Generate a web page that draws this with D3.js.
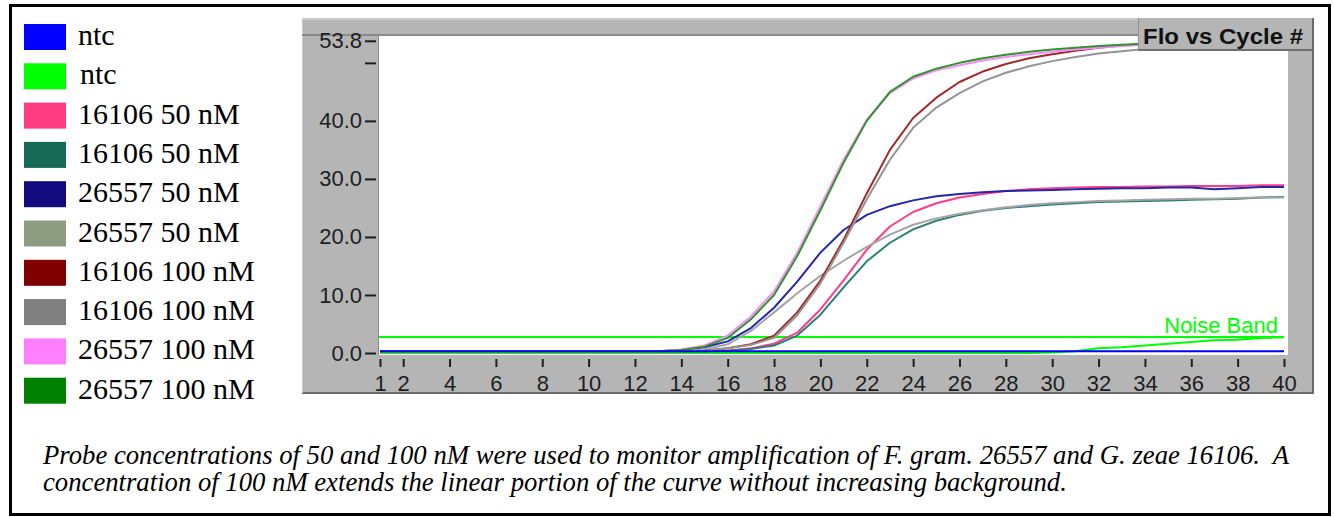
<!DOCTYPE html>
<html>
<head>
<meta charset="utf-8">
<script src="https://cdn.jsdelivr.net/npm/d3@7"></script>
<style>
    body { margin: 0; background: #ffffff; }
    svg { display: block; }
    .caption { white-space: pre; }
</style>
</head>
<body>
<svg width="1334" height="517"></svg>
<script>
var width = 1334;
var height = 517;

// cycle numbers on the x axis
var cycles = [1, 2, 3, 4, 5, 6, 7, 8, 9, 10, 11, 12, 13, 14, 15, 16, 17, 18, 19, 20,
    21, 22, 23, 24, 25, 26, 27, 28, 29, 30, 31, 32, 33, 34, 35, 36, 37, 38, 39, 40];

var legendLabels = ['ntc', 'ntc', '16106 50 nM', '16106 50 nM', '26557 50 nM', '26557 50 nM',
    '16106 100 nM', '16106 100 nM', '26557 100 nM', '26557 100 nM'];

// fluorescence per cycle, one array per well (same order as the legend)
var ntcBlue = [0.3, 0.3, 0.3, 0.3, 0.3, 0.3, 0.3, 0.3, 0.3, 0.3, 0.3, 0.3, 0.3, 0.3, 0.3, 0.3, 0.3, 0.3, 0.3, 0.3,
    0.3, 0.3, 0.3, 0.3, 0.3, 0.3, 0.3, 0.3, 0.3, 0.3, 0.3, 0.3, 0.3, 0.3, 0.3, 0.3, 0.3, 0.3, 0.3, 0.3];
var ntcGreen = [0.0, 0.0, 0.0, 0.0, 0.0, 0.0, 0.0, 0.0, 0.0, 0.0, 0.0, 0.0, 0.0, 0.0, 0.0, 0.0, 0.0, 0.0, 0.0, 0.0,
    0.0, 0.0, 0.0, 0.0, 0.0, 0.0, 0.0, 0.0, 0.0, 0.1, 0.3, 0.8, 1.0, 1.3, 1.6, 1.9, 2.2, 2.3, 2.6, 2.7];
var g16106_50a = [0.3, 0.3, 0.3, 0.3, 0.3, 0.3, 0.3, 0.3, 0.3, 0.3, 0.3, 0.3, 0.3, 0.3, 0.3, 0.4, 0.8, 1.6, 3.5, 7.5,
    12.5, 17.8, 21.8, 24.3, 25.8, 26.8, 27.4, 27.9, 28.2, 28.4, 28.5, 28.6, 28.6, 28.7, 28.7, 28.8, 28.8, 28.8, 28.9, 28.9];
var g16106_50b = [0.3, 0.3, 0.3, 0.3, 0.3, 0.3, 0.3, 0.3, 0.3, 0.3, 0.3, 0.3, 0.3, 0.3, 0.3, 0.4, 0.7, 1.3, 3.0, 6.6,
    11.3, 15.8, 19.0, 21.3, 22.8, 23.8, 24.5, 25.0, 25.3, 25.6, 25.8, 26.0, 26.1, 26.2, 26.3, 26.4, 26.5, 26.6, 26.8, 26.9];
var f26557_50a = [0.3, 0.3, 0.3, 0.3, 0.3, 0.3, 0.3, 0.3, 0.3, 0.3, 0.3, 0.3, 0.3, 0.5, 1.0, 2.0, 4.3, 7.8, 12.3, 17.3,
    21.2, 23.8, 25.3, 26.3, 27.0, 27.4, 27.7, 27.9, 28.0, 28.1, 28.2, 28.3, 28.4, 28.4, 28.5, 28.5, 28.2, 28.4, 28.6, 28.6];
var f26557_50b = [0.3, 0.3, 0.3, 0.3, 0.3, 0.3, 0.3, 0.3, 0.3, 0.3, 0.3, 0.3, 0.3, 0.3, 0.6, 1.5, 3.8, 7.0, 10.3, 13.3,
    15.9, 18.3, 20.4, 22.1, 23.2, 24.0, 24.6, 25.1, 25.5, 25.8, 26.0, 26.2, 26.3, 26.4, 26.5, 26.6, 26.6, 26.7, 26.8, 26.8];
var g16106_100a = [0.3, 0.3, 0.3, 0.3, 0.3, 0.3, 0.3, 0.3, 0.3, 0.3, 0.3, 0.3, 0.3, 0.3, 0.4, 0.8, 1.5, 3.0, 7.0, 12.5,
    19.5, 27.5, 35.0, 40.5, 44.0, 46.7, 48.5, 49.8, 50.8, 51.5, 52.1, 52.6, 53.0, 53.3, 53.5, 53.6, 53.7, 53.8, 53.8, 53.8];
var g16106_100b = [0.3, 0.3, 0.3, 0.3, 0.3, 0.3, 0.3, 0.3, 0.3, 0.3, 0.3, 0.3, 0.3, 0.3, 0.4, 0.8, 1.4, 2.6, 6.5, 12.0,
    19.0, 26.5, 33.3, 38.8, 42.3, 44.8, 46.8, 48.3, 49.4, 50.3, 51.0, 51.6, 52.0, 52.4, 52.7, 52.9, 53.1, 53.2, 53.3, 53.4];
var f26557_100a = [0.3, 0.3, 0.3, 0.3, 0.3, 0.3, 0.3, 0.3, 0.3, 0.3, 0.3, 0.3, 0.3, 0.6, 1.3, 3.0, 6.3, 10.6, 17.3, 25.3,
    33.3, 40.2, 44.8, 47.3, 48.7, 49.6, 50.4, 51.0, 51.5, 51.9, 52.3, 52.6, 52.9, 53.1, 53.3, 53.4, 53.5, 53.6, 53.6, 53.7];
var f26557_100b = [0.3, 0.3, 0.3, 0.3, 0.3, 0.3, 0.3, 0.3, 0.3, 0.3, 0.3, 0.3, 0.3, 0.5, 1.1, 2.6, 5.8, 10.0, 16.7, 24.6,
    32.8, 40.0, 45.0, 47.6, 49.0, 50.0, 50.8, 51.4, 51.9, 52.3, 52.6, 52.9, 53.1, 53.3, 53.4, 53.5, 53.6, 53.7, 53.7, 53.8];

var noiseBand = 2.75;

var yTickValues = [0, 10, 20, 30, 40, 50, 53.8];
var yTickLabels = ['0.0', '10.0', '20.0', '30.0', '40.0', '', '53.8'];
var xTickValues = [1, 2, 4, 6, 8, 10, 12, 14, 16, 18, 20, 22, 24, 26, 28, 30, 32, 34, 36, 38, 40];

var captionLines = [
    'Probe concentrations of 50 and 100 nM were used to monitor amplification of F. gram. 26557 and G. zeae 16106.  A',
    'concentration of 100 nM extends the linear portion of the curve without increasing background.'
];

// colours
var swatchColors = ['#0000ff', '#00ff00', '#ff3c82', '#176b56', '#130a80', '#8e9c82', '#800000', '#808080', '#ff80ff', '#008000'];
var lineColors = ['#0000ff', '#00ff00', '#ff3c8a', '#2a7f78', '#2626a8', '#a4a4a4', '#a02828', '#949494', '#ff88ff', '#2c962c'];

var series = [ntcBlue, ntcGreen, g16106_50a, g16106_50b, f26557_50a, f26557_50b,
    g16106_100a, g16106_100b, f26557_100a, f26557_100b];

var chart = d3.select('svg');

// outer frame
chart.append('rect')
    .attr('x', 0).attr('y', 0)
    .attr('width', width).attr('height', height)
    .attr('fill', '#ffffff');
chart.append('rect')
    .attr('x', 10.5).attr('y', 5.5)
    .attr('width', 1319).attr('height', 509)
    .attr('fill', 'none')
    .attr('stroke', '#000000')
    .attr('stroke-width', 3);

// legend
var legend = chart.append('g').attr('id', 'legend');
legendLabels.forEach(function (label, i) {
    var top = 24 + i * 39.3;
    legend.append('rect')
        .attr('x', 24).attr('y', top)
        .attr('width', 42).attr('height', 26)
        .attr('fill', swatchColors[i]);
    legend.append('text')
        .attr('x', i == 1 ? 80 : 78)
        .attr('y', top + 21)
        .attr('font-family', '"Liberation Serif", "Times New Roman", serif')
        .attr('font-size', '30px')
        .attr('fill', '#000000')
        .text(label);
});

// grey instrument panel
var panel = { left: 302, top: 18, right: 1313, bottom: 393 };
var plot = { left: 379, top: 36, right: 1288, bottom: 355 };

chart.append('rect')
    .attr('x', panel.left).attr('y', panel.top)
    .attr('width', panel.right - panel.left).attr('height', panel.bottom - panel.top)
    .attr('fill', '#b5b5b5');
chart.append('line') // lighter top edge
    .attr('x1', panel.left).attr('x2', panel.right)
    .attr('y1', panel.top + 1).attr('y2', panel.top + 1)
    .attr('stroke', '#cacaca').attr('stroke-width', 2);
chart.append('line')
    .attr('x1', panel.left).attr('x2', panel.right)
    .attr('y1', panel.bottom).attr('y2', panel.bottom)
    .attr('stroke', '#6a6a6a').attr('stroke-width', 2);
chart.append('line')
    .attr('x1', panel.right).attr('x2', panel.right)
    .attr('y1', panel.top).attr('y2', panel.bottom + 1)
    .attr('stroke', '#6a6a6a').attr('stroke-width', 2);
chart.append('line')
    .attr('x1', panel.left + 0.5).attr('x2', panel.left + 0.5)
    .attr('y1', panel.top).attr('y2', panel.bottom)
    .attr('stroke', '#cdcdcd').attr('stroke-width', 1);

// white plotting area with sunken edge
chart.append('rect')
    .attr('x', plot.left).attr('y', plot.top)
    .attr('width', plot.right - plot.left).attr('height', plot.bottom - plot.top)
    .attr('fill', '#ffffff');
chart.append('line')
    .attr('x1', panel.left).attr('x2', panel.right)
    .attr('y1', plot.top - 1).attr('y2', plot.top - 1)
    .attr('stroke', '#8a8a8a').attr('stroke-width', 2);
chart.append('line')
    .attr('x1', plot.left - 0.5).attr('x2', plot.left - 0.5)
    .attr('y1', plot.top - 1).attr('y2', plot.bottom)
    .attr('stroke', '#8a8a8a').attr('stroke-width', 1);

// scales
var x = d3.scaleLinear().domain([1, 40]).range([380, 1284]);
var y = d3.scaleLinear().domain([0, 54.8]).range([353, 35]);

chart.append('clipPath')
    .attr('id', 'plot-clip')
    .append('rect')
    .attr('x', plot.left).attr('y', plot.top)
    .attr('width', plot.right - plot.left).attr('height', plot.bottom - plot.top);

var lines = chart.append('g').attr('clip-path', 'url(#plot-clip)');

// noise band
lines.append('line')
    .attr('x1', plot.left).attr('x2', x(40))
    .attr('y1', y(noiseBand)).attr('y2', y(noiseBand))
    .attr('stroke', '#00ff00')
    .attr('stroke-width', 2);

var lineGen = d3.line()
    .x(function (d, i) { return x(cycles[i]); })
    .y(function (d) { return y(d); });

// draw order: green ntc first, blue ntc last so it sits on the baseline
var drawOrder = [1, 2, 3, 4, 5, 6, 7, 8, 9, 0];
drawOrder.forEach(function (k) {
    lines.append('path')
        .datum(series[k])
        .attr('d', lineGen)
        .attr('fill', 'none')
        .attr('stroke', lineColors[k])
        .attr('stroke-width', 2)
        .attr('stroke-linejoin', 'round');
});

chart.append('text')
    .attr('x', 1278)
    .attr('y', 333)
    .attr('text-anchor', 'end')
    .attr('font-family', '"Liberation Sans", Arial, sans-serif')
    .attr('font-size', '22px')
    .attr('fill', '#00ff00')
    .text('Noise Band');

// axes
var yAxis = d3.axisLeft(y)
    .tickValues(yTickValues)
    .tickFormat(function (d, i) { return yTickLabels[i]; })
    .tickSize(11)
    .tickPadding(3);
var yAxisG = chart.append('g')
    .attr('id', 'y-axis-g')
    .attr('transform', 'translate(376,0)')
    .call(yAxis);

var xAxis = d3.axisBottom(x)
    .tickValues(xTickValues)
    .tickFormat(d3.format('d'))
    .tickSize(8)
    .tickPadding(8);
var xAxisG = chart.append('g')
    .attr('id', 'x-axis-g')
    .attr('transform', 'translate(0,359)')
    .call(xAxis);

[yAxisG, xAxisG].forEach(function (g) {
    g.select('.domain').remove();
    g.selectAll('.tick line')
        .attr('stroke', '#1e1e1e')
        .attr('stroke-width', 2);
    g.selectAll('.tick text')
        .attr('fill', '#1e1e1e')
        .attr('font-family', '"Liberation Sans", Arial, sans-serif')
        .attr('font-size', '22px');
});

// title tab
chart.append('rect')
    .attr('x', 1138).attr('y', panel.top)
    .attr('width', panel.right - 1138).attr('height', 32)
    .attr('fill', '#b5b5b5');
chart.append('line')
    .attr('x1', 1138).attr('x2', panel.right)
    .attr('y1', 50).attr('y2', 50)
    .attr('stroke', '#707070').attr('stroke-width', 2);
chart.append('line')
    .attr('x1', 1138.5).attr('x2', 1138.5)
    .attr('y1', panel.top).attr('y2', 50)
    .attr('stroke', '#909090').attr('stroke-width', 1);
chart.append('line')
    .attr('x1', panel.right).attr('x2', panel.right)
    .attr('y1', panel.top).attr('y2', 51)
    .attr('stroke', '#6a6a6a').attr('stroke-width', 2);
chart.append('text')
    .attr('x', 1143)
    .attr('y', 44)
    .attr('font-family', '"Liberation Sans", Arial, sans-serif')
    .attr('font-weight', 'bold')
    .attr('font-size', '22px')
    .attr('textLength', 160)
    .attr('lengthAdjust', 'spacingAndGlyphs')
    .attr('fill', '#111111')
    .text('Flo vs Cycle #');

// caption
chart.selectAll('.caption')
    .data(captionLines)
    .enter()
    .append('text')
    .attr('class', 'caption')
    .attr('x', 43)
    .attr('y', function (d, i) { return 464 + i * 27; })
    .attr('font-family', '"Liberation Serif", "Times New Roman", serif')
    .attr('font-style', 'italic')
    .attr('font-size', '26.7px')
    .attr('fill', '#000000')
    .text(function (d) { return d; });
</script>
</body>
</html>
